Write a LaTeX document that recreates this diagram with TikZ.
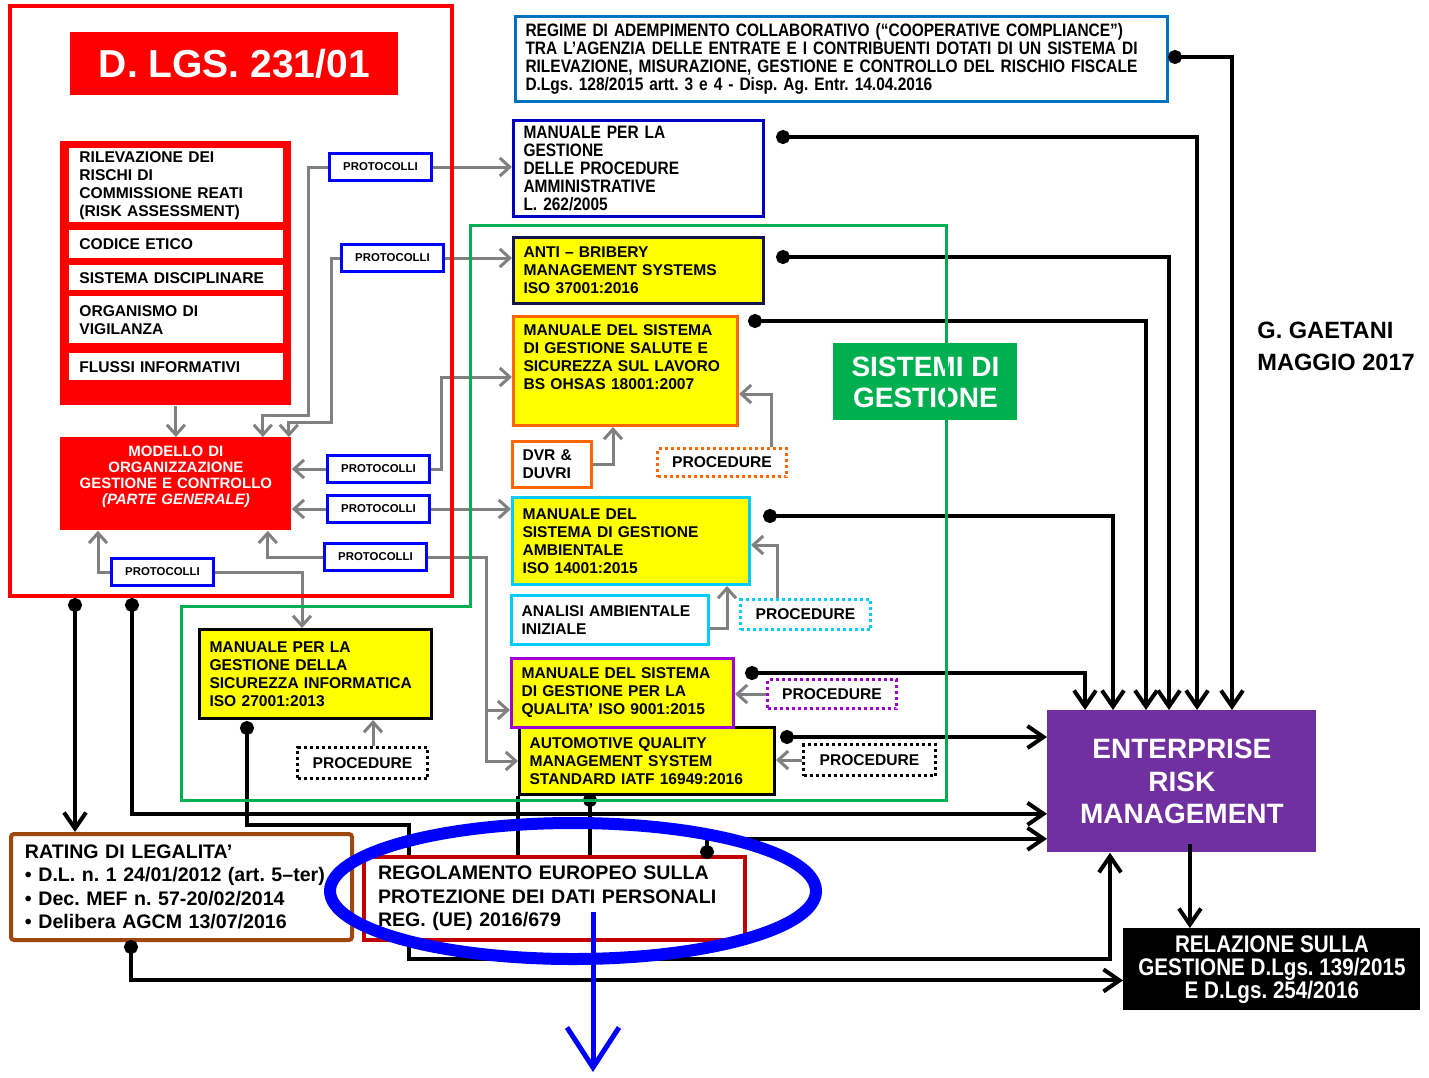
\documentclass[tikz,border=0pt]{standalone}
\usepackage{fontspec}
\setmainfont{Liberation Sans}
\newfontfamily\narrowfont[FakeStretch=0.86]{Liberation Sans}
\usetikzlibrary{calc,arrows.meta}
\frenchspacing

\definecolor{rosso}{RGB}{255,0,0}
\definecolor{rossoscuro}{RGB}{192,0,0}
\definecolor{bluregime}{RGB}{0,112,192}
\definecolor{blumanuale}{RGB}{0,0,192}
\definecolor{bluprot}{RGB}{0,0,255}
\definecolor{navy}{RGB}{20,20,80}
\definecolor{giallo}{RGB}{255,255,0}
\definecolor{arancio}{RGB}{255,102,0}
\definecolor{ciano}{RGB}{0,204,255}
\definecolor{viola}{RGB}{160,0,210}
\definecolor{verde}{RGB}{0,176,80}
\definecolor{marrone}{RGB}{158,72,14}
\definecolor{ermviola}{RGB}{112,48,160}
\definecolor{grigio}{RGB}{128,128,128}

\tikzset{
  cella/.style={anchor=north west, align=left, inner xsep=5pt, inner ysep=1pt},
  redcell/.style={cella, fill=white, text width=97pt, font=\bfseries\fontsize{7.8}{9}\selectfont},
  protbox/.style={draw=bluprot, line width=1.5pt, fill=white, anchor=north west, minimum width=51pt, minimum height=13.5pt, inner sep=0pt, font=\bfseries\fontsize{5.7}{6}\selectfont},
  ybox/.style={cella, draw, line width=1.5pt, fill=giallo, font=\bfseries\fontsize{7.8}{9}\selectfont},
  wbox/.style={cella, draw, line width=1.5pt, fill=white, font=\bfseries\fontsize{7.8}{9}\selectfont},
  procbox/.style={draw, line width=1.5pt, dash pattern=on 1.5pt off 1.5pt, fill=white, anchor=north west, inner sep=0pt, font=\bfseries\fontsize{7.8}{9}\selectfont},
  garrow/.style={draw=grigio, line width=1.5pt, -{Straight Barb[length=5pt,width=9pt]}},
  bline/.style={line width=2pt},
  barrow/.style={line width=2pt, -{Straight Barb[length=8pt,width=11pt]}},
  bdot/.style={line width=2pt, {Circle[length=7pt]}-},
  bdotarrow/.style={line width=2pt, {Circle[length=7pt]}-{Straight Barb[length=8pt,width=11pt]}},
}

\begin{document}
\begin{tikzpicture}[x=0.5pt,y=-0.5pt,font=\bfseries]

\useasboundingbox (0,0) rectangle (1429,1077);

% D.Lgs. 231/01
\node[fill=rosso, text=white, anchor=north west, minimum width=164pt, minimum height=31.5pt, font=\bfseries\fontsize{19.5}{20}\selectfont] (titolo) at (70,32) {D. LGS. 231/01};
\node[fill=rosso, anchor=north west, minimum width=115.5pt, minimum height=132pt, inner sep=0pt] (riskcol) at (60,141) {};
\node[redcell, minimum height=37pt] (rischi) at (69,148) {RILEVAZIONE DEI\\RISCHI DI\\COMMISSIONE REATI\\(RISK ASSESSMENT)};
\node[redcell, minimum height=14pt] (codice) at (69,230) {CODICE ETICO};
\node[redcell, minimum height=12.5pt] (disciplinare) at (69,265) {SISTEMA DISCIPLINARE};
\node[redcell, minimum height=23.5pt] (organismo) at (69,296) {ORGANISMO DI\\VIGILANZA};
\node[redcell, minimum height=13.5pt] (flussi) at (69,353) {FLUSSI INFORMATIVI};
\node[fill=rosso, text=white, anchor=north west, align=center, text width=105.5pt, minimum height=46.5pt, inner xsep=5pt, font=\bfseries\fontsize{7.5}{8}\selectfont] (modello) at (60,437) {MODELLO DI\\ORGANIZZAZIONE\\GESTIONE E CONTROLLO\\\textit{(PARTE GENERALE)}\\[1pt]\mbox{}};

\node[protbox] (prot1) at (328,152) {PROTOCOLLI};
\node[protbox] (prot2) at (340,243) {PROTOCOLLI};
\node[protbox] (prot3) at (326,454) {PROTOCOLLI};
\node[protbox] (prot4) at (326,494) {PROTOCOLLI};
\node[protbox] (prot5) at (323,542) {PROTOCOLLI};
\node[protbox] (prot6) at (110,557) {PROTOCOLLI};

% colonna dei sistemi
\node[wbox, draw=bluregime, text width=316pt, minimum height=42.5pt, font=\narrowfont\bfseries\fontsize{9}{9}\selectfont] (regime) at (514,15) {REGIME DI ADEMPIMENTO COLLABORATIVO (“COOPERATIVE COMPLIANCE”)\\TRA L’AGENZIA DELLE ENTRATE E I CONTRIBUENTI DOTATI DI UN SISTEMA DI\\RILEVAZIONE, MISURAZIONE, GESTIONE E CONTROLLO DEL RISCHIO FISCALE\\D.Lgs. 128/2015 artt. 3 e 4 - Disp. Ag. Entr. 14.04.2016};
\node[wbox, draw=blumanuale, text width=115pt, minimum height=48pt, font=\narrowfont\bfseries\fontsize{9}{9}\selectfont] (manuale) at (512,119) {MANUALE PER LA\\GESTIONE\\DELLE PROCEDURE\\AMMINISTRATIVE\\L. 262/2005};
\node[ybox, draw=navy, text width=115pt, minimum height=33pt] (anti) at (512,236) {ANTI – BRIBERY\\MANAGEMENT SYSTEMS\\ISO 37001:2016};
\node[ybox, draw=arancio, text width=102pt, minimum height=54.5pt] (salute) at (512,315) {MANUALE DEL SISTEMA\\DI GESTIONE SALUTE E\\SICUREZZA SUL LAVORO\\BS OHSAS 18001:2007\\[5pt]\mbox{}};
\node[wbox, draw=arancio, text width=29.5pt, minimum height=23pt] (dvr) at (511,440) {DVR \&\\DUVRI};
\node[procbox, draw=arancio, minimum width=64.5pt, minimum height=14pt] (procsal) at (656,447) {PROCEDURE};
\node[ybox, draw=ciano, text width=108.5pt, minimum height=43.5pt] (ambient) at (511,496) {MANUALE DEL\\SISTEMA DI GESTIONE\\AMBIENTALE\\ISO 14001:2015};
\node[wbox, draw=ciano, text width=88.5pt, minimum height=24.5pt] (analisi) at (510,594) {ANALISI AMBIENTALE\\INIZIALE};
\node[procbox, draw=ciano, minimum width=65pt, minimum height=15pt] (procamb) at (739,598) {PROCEDURE};
\node[ybox, draw=black, text width=117.5pt, minimum height=33.5pt] (auto) at (518,726) {AUTOMOTIVE QUALITY\\MANAGEMENT SYSTEM\\STANDARD IATF 16949:2016};
\node[ybox, draw=viola, text width=101pt, minimum height=34.5pt] (qualita) at (510,657) {MANUALE DEL SISTEMA\\DI GESTIONE PER LA\\QUALITA’ ISO 9001:2015};
\node[procbox, draw=viola, minimum width=64.5pt, minimum height=14.5pt] (procqual) at (766,678) {PROCEDURE};
\node[procbox, draw=black, minimum width=66pt, minimum height=15.5pt] (procauto) at (802,743) {PROCEDURE};
\node[ybox, draw=black, text width=106pt, minimum height=44.5pt] (sicinf) at (198,628) {MANUALE PER LA\\GESTIONE DELLA\\SICUREZZA INFORMATICA\\ISO 27001:2013};
\node[procbox, draw=black, minimum width=65pt, minimum height=15.5pt] (procsic) at (296,746) {PROCEDURE};
\node[fill=verde, text=white, anchor=north west, minimum width=92pt, minimum height=38.5pt, align=center, font=\bfseries\fontsize{14}{15.5}\selectfont] (sistemi) at (833,343) {SISTEMI DI\\GESTIONE};

% in basso
\node[wbox, draw=marrone, line width=2pt, rounded corners=1.5pt, inner xsep=7pt, text width=156.5pt, minimum height=53pt, font=\bfseries\fontsize{9.8}{11.75}\selectfont] (rating) at (9,832) {RATING DI LEGALITA’\\\textbullet{} D.L. n. 1 24/01/2012 (art. 5–ter)\\\textbullet{} Dec. MEF n. 57-20/02/2014\\\textbullet{} Delibera AGCM 13/07/2016};
\node[wbox, draw=rossoscuro, line width=2pt, inner xsep=7pt, text width=176.5pt, minimum height=41.5pt, font=\bfseries\fontsize{9.8}{11.75}\selectfont] (regol) at (362,855) {REGOLAMENTO EUROPEO SULLA\\PROTEZIONE DEI DATI PERSONALI\\REG. (UE) 2016/679};
\node[fill=ermviola, text=white, anchor=north west, minimum width=134.5pt, minimum height=71pt, align=center, font=\bfseries\fontsize{14}{16.25}\selectfont] (erm) at (1047,710) {ENTERPRISE\\RISK\\MANAGEMENT};
\node[fill=black, text=white, anchor=north west, minimum width=148.5pt, minimum height=41pt, align=center, font=\narrowfont\bfseries\fontsize{12}{11.5}\selectfont] (relaz) at (1123,928) {RELAZIONE SULLA\\GESTIONE D.Lgs. 139/2015\\E D.Lgs. 254/2016};
\node[anchor=north west, align=left, inner sep=0pt, font=\bfseries\fontsize{11.8}{16}\selectfont] (autore) at (1257,322) {G. GAETANI\\MAGGIO 2017};

% frecce grigie
\draw[garrow] (riskcol.south) -- (modello.north);
\draw[garrow] (prot1.west) -| (308,415) -| ($(modello.north east)+(-29,0)$);
\draw[garrow] (prot2.west) -| (331,422) -| ($(modello.north east)+(-3,0)$);
\draw[garrow] (prot1.east) -- (prot1.east -| manuale.west);
\draw[garrow] (prot2.east) -- (prot2.east -| anti.west);
\draw[garrow] (prot3.west) -- (prot3.west -| modello.east);
\draw[garrow] (prot3.east) -- ++(10,0) |- ($(salute.west)+(0,6)$);
\draw[garrow] (prot4.west) -- (prot4.west -| modello.east);
\draw[garrow] (prot4.east) -- (prot4.east -| ambient.west);
\draw[garrow] (prot5.west) -| ($(modello.south east)+(-24,0)$);
\draw[garrow] (prot5.east) -- ++(58,0) |- (auto.west);
\coordinate (qbranch) at ($(prot5.east)+(58,153)$);
\draw[garrow] (qbranch) -- (qbranch -| qualita.west);
\draw[garrow] (prot6.west) -| ($(modello.south west)+(38,0)$);
\draw[garrow] (prot6.east) -| ($(sicinf.north west)+(104,0)$);
\draw[garrow] (dvr.east) -| ($(salute.south west)+(101,0)$);
\draw[garrow] ($(procsal.north east)+(-17,0)$) |- ($(salute.east)+(0,23)$);
\draw[garrow] ($(analisi.east)+(0,8)$) -| ($(ambient.south west)+(216,0)$);
\draw[garrow] ($(procamb.north west)+(38,0)$) |- ($(ambient.east)+(0,4)$);
\draw[garrow] (procqual.west) -- (procqual.west -| qualita.east);
\draw[garrow] (procauto.west) -- (procauto.west -| auto.east);
\coordinate (psic) at ($(procsic.north west)+(77,0)$);
\draw[garrow] (psic) -- (psic |- sicinf.south);

% collegamenti neri
\coordinate (dregime) at (1168,57);
\coordinate (dmanuale) at (776,137);
\coordinate (danti) at (776,257);
\coordinate (dsalute) at (748,321);
\coordinate (dambient) at (763,516);
\coordinate (dqualita) at (745,673);
\coordinate (dauto) at (780,737);
\coordinate (dautob) at (590,793);
\coordinate (dlgsa) at (75,598);
\coordinate (dlgsb) at (132,598);
\coordinate (dsicinf) at (247,721);
\coordinate (drating) at (131,940);
\coordinate (dregol) at (707,859);
\coordinate (ermout) at ($(erm.south)+(8,-9)$);

\draw[bdotarrow] (dregime) -| ($(erm.north west)+(185,0)$);
\draw[bdotarrow] (dmanuale) -| ($(erm.north west)+(150,0)$);
\draw[bdotarrow] (danti) -| ($(erm.north west)+(122,0)$);
\draw[bdotarrow] (dsalute) -| ($(erm.north west)+(99,0)$);
\draw[bdotarrow] (dambient) -| ($(erm.north west)+(66,0)$);
\draw[bdotarrow] (dqualita) -| ($(erm.north west)+(38,0)$);
\draw[bdotarrow] (dauto) -- (dauto -| erm.west);
\draw[bdotarrow] (dlgsa) -- (dlgsa |- rating.north);
\draw[bdotarrow] (dlgsb) |- ($(erm.south west)+(0,-39)$);
\draw[bdot] (dsicinf) |- ($(regol.north west)+(47,-30)$) -- ($(regol.north west)+(47,0)$);
\draw[barrow] ($(regol.south west)+(47,0)$) -- ++(0,17) -| ($(erm.south west)+(63,0)$);
\draw[bdot] (dautob) -- (dautob |- regol.north);
\draw[bline] (auto.south west) -- (auto.south west |- regol.north);
\draw[bdotarrow] (dregol) |- ($(erm.south west)+(0,-14)$);
\draw[bdotarrow] (drating) |- ($(relaz.west)+(0,11)$);
\draw[barrow] (ermout) -- (ermout |- relaz.north);

% cornici
\draw[rosso, line width=2pt] (10,6) rectangle (452,596);
\draw[verde, line width=1.5pt] (470,225) -- (946,225) -- (946,800) -- (181,800) -- (181,606) -- (470,606) -- cycle;

% evidenziazione GDPR
\draw[bluprot, line width=6pt] (573,891) ellipse [x radius=121.5pt, y radius=34pt];
\coordinate (gdprin) at (593,912);
\coordinate (gdprout) at (593,1072);
\draw[bluprot, line width=2.5pt, -{Straight Barb[length=20pt,width=26pt]}] (gdprin) -- (gdprout);

\end{tikzpicture}
\end{document}
